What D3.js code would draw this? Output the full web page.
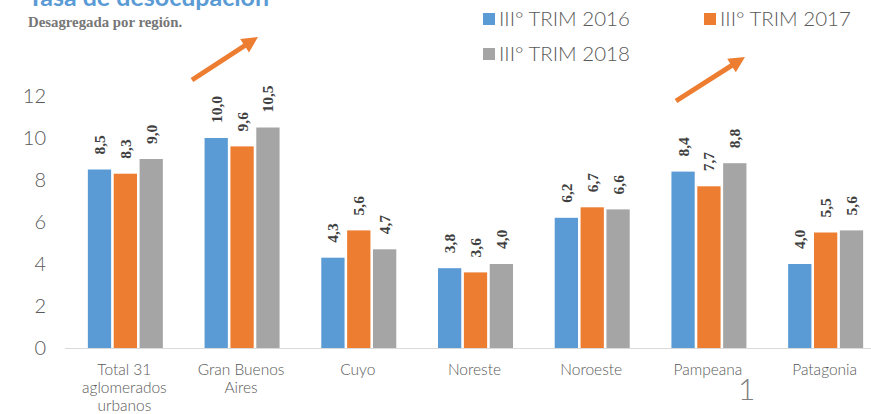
<!DOCTYPE html>
<html><head><meta charset="utf-8">
<script src="https://cdn.jsdelivr.net/npm/d3@7"></script>
<style>body{margin:0;background:#fff}svg{display:block}</style>
</head><body>
<script>
const categories = [["Total 31","aglomerados","urbanos"],["Gran Buenos","Aires"],["Cuyo"],["Noreste"],["Noroeste"],["Pampeana"],["Patagonia"]];
const seriesNames = ["III° TRIM 2016","III° TRIM 2017","III° TRIM 2018"];
const s2016 = [8.5,10.0,4.3,3.8,6.2,8.4,4.0];
const s2017 = [8.3,9.6,5.6,3.6,6.7,7.7,5.5];
const s2018 = [9.0,10.5,4.7,4.0,6.6,8.8,5.6];
const yTicks = [0,2,4,6,8,10,12];
const colors = ["#5b9bd5","#ed7d31","#a5a5a5"];
const series = [s2016,s2017,s2018];

const W=871,H=414;
const sans="Lato, 'Open Sans', sans-serif";
const svg=d3.select("body").append("svg").attr("width",W).attr("height",H);
const x=d3.scaleBand().domain(d3.range(categories.length)).range([67,884]);
const y=d3.scaleLinear().domain([0,12]).range([348,96]);
const inner=d3.scaleBand().domain([0,1,2]).range([0,75]).paddingInner(0.1);

// title
svg.append("text").attr("x",28).attr("y",6).attr("font-family",sans).attr("font-weight","bold").attr("font-size",25).attr("fill","#5b9bd5").text("Tasa de desocupación");
svg.append("text").attr("x",28).attr("y",27).attr("font-family","'Liberation Serif', serif").attr("font-weight","bold").attr("font-size",14.8).attr("fill","#767676").text("Desagregada por región.");

// baseline
svg.append("line").attr("x1",65).attr("x2",W).attr("y1",y(0)+0.5).attr("y2",y(0)+0.5).attr("stroke","#d9d9d9");

// y axis labels
const yAxis=d3.axisLeft(y).tickValues(yTicks).tickSize(0).tickPadding(0);
const ga=svg.append("g").attr("transform","translate(46,0)").call(yAxis);
ga.select(".domain").remove();
ga.selectAll("text").attr("font-family",sans).attr("font-weight",300).attr("font-size",20).attr("fill","#595959");

// bars
series.forEach((s,si)=>{
  const g=svg.append("g");
  g.selectAll("rect").data(s).enter().append("rect")
    .attr("x",(d,i)=>x(i)+x.bandwidth()/2-37.5+inner(si))
    .attr("y",d=>y(d)).attr("width",inner.bandwidth()).attr("height",d=>y(0)-y(d))
    .attr("fill",colors[si]);
  g.selectAll("text").data(s).enter().append("text")
    .attr("transform",(d,i)=>`translate(${x(i)+x.bandwidth()/2-37.5+inner(si)+inner.bandwidth()/2+5.5},${y(d)-15}) rotate(-90)`)
    .attr("font-family","'Liberation Serif', serif").attr("font-weight","bold").attr("font-size",15.5).attr("fill","#404040")
    .text(d=>d.toFixed(1).replace(".",","));
});

// category labels
categories.forEach((c,i)=>{
  const cx=x(i)+x.bandwidth()/2-1;
  const t=svg.append("text").attr("x",cx).attr("y",375).attr("text-anchor","middle")
    .attr("font-family",sans).attr("font-weight",300).attr("font-size",15.5).attr("fill","#595959");
  c.forEach((l,k)=>t.append("tspan").attr("x",cx).attr("dy",k?18:0).text(l));
});

// legend
const legPos=[[483,19],[704,19],[483,54]];
seriesNames.forEach((n,i)=>{
  svg.append("rect").attr("x",legPos[i][0]).attr("y",legPos[i][1]-6).attr("width",12).attr("height",12).attr("fill",colors[i]);
  svg.append("text").attr("x",legPos[i][0]+16).attr("y",legPos[i][1]+7).attr("font-family",sans).attr("font-weight",300).attr("font-size",20.5).attr("fill","#595959").text(n);
});

// arrows
function arrow(x1,y1,x2,y2){
  const ang=Math.atan2(y2-y1,x2-x1);
  const L=Math.hypot(x2-x1,y2-y1);
  const g=svg.append("g").attr("transform",`translate(${x1},${y1}) rotate(${ang*180/Math.PI})`);
  g.append("path").attr("d",`M0,-2.5 L${L-16},-2.5 L${L-16},-8 L${L},0 L${L-16},8 L${L-16},2.5 L0,2.5 Z`).attr("fill","#ed7d31");
}
arrow(192,80,258,37);
arrow(676,101,745,57);

// page number
svg.append("text").attr("x",738).attr("y",400).attr("font-family",sans).attr("font-weight",300).attr("font-size",30).attr("fill","#7f7f7f").text("1");
</script>
</body></html>
